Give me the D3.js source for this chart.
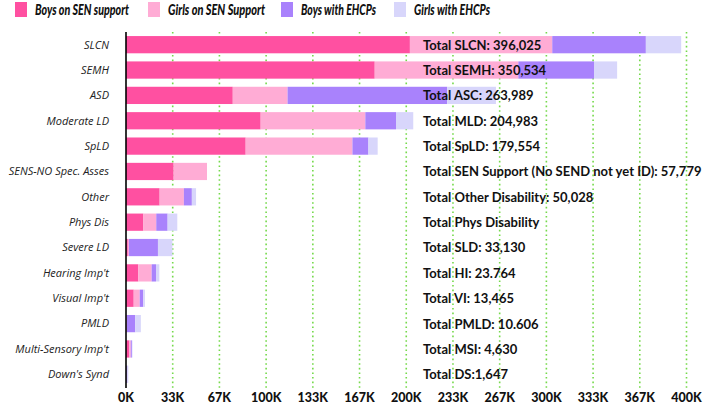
<!DOCTYPE html>
<html>
<head>
<meta charset="utf-8">
<script src="https://cdn.jsdelivr.net/npm/d3@7"></script>
<style>
  body { margin: 0; background: #fff; }
  svg { display: block; }
  .ylab { font-family: "Open Sans", "DejaVu Sans", sans-serif; font-style: italic; font-size: 11px; fill: #222; }
  .xlab { font-family: Lato, sans-serif; font-weight: 900; font-size: 12.5px; fill: #111; }
  .legend text { font-family: Lato, sans-serif; font-weight: 900; font-style: italic; font-size: 15.5px; fill: #111; }
  .total { font-family: Lato, sans-serif; font-weight: 700; font-size: 13px; fill: #111; }
</style>
</head>
<body>
<div id="chart"></div>
<script>
"use strict"

// categories (top to bottom)
var categories = ["SLCN", "SEMH", "ASD", "Moderate LD", "SpLD", "SENS-NO Spec. Asses",
                  "Other", "Phys Dis", "Severe LD", "Hearing Imp't", "Visual Imp't",
                  "PMLD", "Multi-Sensory Imp't", "Down's Synd"];

// series values, in thousands of pupils
var boysSen   = [202.6, 177.5, 76.2, 96.1, 85.4, 34.0, 24.0, 12.4, 1.3, 8.8, 5.5, 0.3, 2.4, 0.10];
var girlsSen  = [101.6, 102.5, 39.1, 74.7, 76.2, 23.8, 17.3,  9.2, 0.8, 9.5, 4.3, 0.2, 1.0, 0.05];
var boysEhcp  = [ 66.8,  54.0, 113.9, 21.9, 11.4, 0,   5.7,  8.1, 20.7, 3.1, 2.5, 6.1, 0.8, 0.85];
var girlsEhcp = [ 25.2,  16.5, 34.8, 12.3,  6.6, 0,   3.0,  6.9, 10.3, 2.4, 1.2, 4.0, 0.4, 0.65];

var seriesNames = ["Boys on SEN support", "Girls on SEN Support", "Boys with EHCPs", "Girls with EHCPs"];
var seriesColors = ["#ff50a1", "#ffacd5", "#a982fc", "#d8d6fb"];

// total labels written next to the bars
var totalLabels = ["Total SLCN: 396,025", "Total SEMH: 350,534", "Total ASC: 263,989",
                   "Total MLD: 204,983", "Total SpLD: 179,554",
                   "Total SEN Support (No SEND not yet ID): 57,779",
                   "Total Other Disability: 50,028", "Total Phys Disability",
                   "Total SLD: 33,130", "Total HI: 23.764", "Total VI: 13,465",
                   "Total PMLD: 10.606", "Total MSI: 4,630", "Total DS:1,647"];

// x ticks (thousands)
var xTicks = [0, 400/12, 800/12, 100, 1600/12, 2000/12, 200, 2800/12, 3200/12, 300, 4000/12, 4400/12, 400];

var width = 715, height = 417;
var margin = {top: 32, right: 28, bottom: 30, left: 126};

var svg = d3.select("#chart").append("svg")
    .attr("width", width)
    .attr("height", height);

var x = d3.scaleLinear()
    .domain([0, 400])
    .range([margin.left, 686.5]);

var y = d3.scaleBand()
    .domain(categories)
    .range([margin.top, 387])
    .paddingInner(0.32)
    .paddingOuter(0.16);

// build table for the stack
var table = categories.map(function(c, i) {
  return {cat: c, s0: boysSen[i], s1: girlsSen[i], s2: boysEhcp[i], s3: girlsEhcp[i]};
});
var stack = d3.stack().keys(["s0", "s1", "s2", "s3"]);
var layers = stack(table);

// grid lines
svg.append("g")
  .selectAll("line")
  .data(xTicks.slice(1))
  .enter().append("line")
    .attr("x1", function(d) { return x(d); })
    .attr("x2", function(d) { return x(d); })
    .attr("y1", margin.top)
    .attr("y2", 388)
    .attr("stroke", "#74d94a")
    .attr("stroke-width", 1.6)
    .attr("stroke-dasharray", "1.6,3");

// bars
svg.append("g")
  .selectAll("g")
  .data(layers)
  .enter().append("g")
    .attr("fill", function(d, i) { return seriesColors[i]; })
  .selectAll("rect")
  .data(function(d) { return d; })
  .enter().append("rect")
    .attr("x", function(d) { return x(d[0]); })
    .attr("width", function(d) { return x(d[1]) - x(d[0]); })
    .attr("y", function(d) { return y(d.data.cat); })
    .attr("height", y.bandwidth());

// y axis line and labels
svg.append("line")
  .attr("x1", x(0)).attr("x2", x(0))
  .attr("y1", margin.top).attr("y2", 388)
  .attr("stroke", "#000")
  .attr("stroke-width", 1.6);

svg.append("g")
  .selectAll("text")
  .data(categories)
  .enter().append("text")
    .attr("class", "ylab")
    .attr("x", 109)
    .attr("y", function(d) { return y(d) + y.bandwidth() / 2; })
    .attr("dy", "0.35em")
    .attr("text-anchor", "end")
    .text(function(d) { return d; });

// x tick labels
svg.append("g")
  .selectAll("text")
  .data(xTicks)
  .enter().append("text")
    .attr("class", "xlab")
    .attr("x", function(d) { return x(d); })
    .attr("y", 402)
    .attr("text-anchor", "middle")
    .text(function(d) { return Math.round(d) + "K"; });

// totals
svg.append("g")
  .selectAll("text")
  .data(totalLabels)
  .enter().append("text")
    .attr("class", "total")
    .attr("x", 423)
    .attr("y", function(d, i) { return y(categories[i]) + y.bandwidth() / 2; })
    .attr("dy", "0.38em")
    .text(function(d) { return d; });

// legend
var legendX = [15, 148, 281, 394];
var legendW = [94, 97, 75, 76];
var legend = svg.append("g").attr("class", "legend");
var items = legend.selectAll("g")
  .data(seriesNames)
  .enter().append("g")
    .attr("transform", function(d, i) { return "translate(" + legendX[i] + ",2)"; });
items.append("rect")
  .attr("width", 12)
  .attr("height", 15)
  .attr("fill", function(d, i) { return seriesColors[i]; });
items.append("text")
  .attr("x", 20)
  .attr("y", 13)
  .attr("textLength", function(d, i) { return legendW[i]; })
  .attr("lengthAdjust", "spacingAndGlyphs")
  .text(function(d) { return d; });
</script>
</body>
</html>
